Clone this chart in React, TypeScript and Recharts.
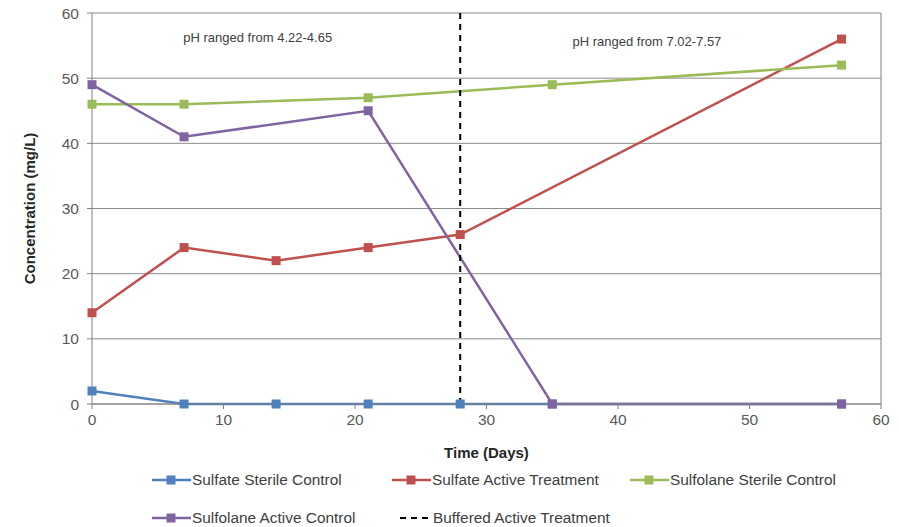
import React from "react";
import {
  LineChart,
  Line,
  XAxis,
  YAxis,
  CartesianGrid,
  Legend,
  ReferenceLine,
  ReferenceDot,
} from "recharts";

// values
const sulfateSterile = [
  { day: 0, value: 2 },
  { day: 7, value: 0 },
  { day: 14, value: 0 },
  { day: 21, value: 0 },
  { day: 28, value: 0 },
  { day: 35, value: 0 },
  { day: 57, value: 0 },
];
const sulfateActive = [
  { day: 0, value: 14 },
  { day: 7, value: 24 },
  { day: 14, value: 22 },
  { day: 21, value: 24 },
  { day: 28, value: 26 },
  { day: 57, value: 56 },
];
const sulfolaneSterile = [
  { day: 0, value: 46 },
  { day: 7, value: 46 },
  { day: 21, value: 47 },
  { day: 35, value: 49 },
  { day: 57, value: 52 },
];
const sulfolaneActive = [
  { day: 0, value: 49 },
  { day: 7, value: 41 },
  { day: 21, value: 45 },
  { day: 35, value: 0 },
  { day: 57, value: 0 },
];
const buffered = [
  { day: 28, value: 0 },
  { day: 28, value: 60 },
];

const xTicks = [0, 10, 20, 30, 40, 50, 60];
const yTicks = [0, 10, 20, 30, 40, 50, 60];

const notes = [
  { day: 12.6, value: 56.2, text: "pH ranged from 4.22-4.65" },
  { day: 42.2, value: 55.7, text: "pH ranged from 7.02-7.57" },
];

const legendItems = [
  { name: "Sulfate Sterile Control", color: "#4F81BD", left: 150, row: 0, dashed: false },
  { name: "Sulfate Active Treatment", color: "#C0504D", left: 390, row: 0, dashed: false },
  { name: "Sulfolane Sterile Control", color: "#9BBB59", left: 628, row: 0, dashed: false },
  { name: "Sulfolane Active Control", color: "#8064A2", left: 150, row: 1, dashed: false },
  { name: "Buffered Active Treatment", color: "#000000", left: 400, row: 1, dashed: true },
];

const FONT = "'Liberation Sans', Arial, sans-serif";

const squareDot = (color: string) => (p: any) => (
  <rect
    key={`d-${p.index}`}
    x={p.cx - 4.5}
    y={p.cy - 4.5}
    width={9}
    height={9}
    fill={color}
  />
);

function LegendBox() {
  return (
    <div style={{ position: "relative", width: 899, height: 66, fontFamily: FONT }}>
      {legendItems.map((it) => (
        <div
          key={it.name}
          style={{
            position: "absolute",
            left: it.left,
            top: it.row === 0 ? 10 : 48,
            height: 18,
            display: "flex",
            alignItems: "center",
            fontSize: 15.4,
            color: "#404040",
            whiteSpace: "nowrap",
          }}
        >
          {it.dashed ? (
            <svg width={33} height={12}>
              <line x1={0} y1={6} x2={32} y2={6} stroke="#000" strokeWidth={2} strokeDasharray="6 5" />
            </svg>
          ) : (
            <svg width={42} height={12}>
              <line x1={2} y1={6} x2={41} y2={6} stroke={it.color} strokeWidth={2.5} />
              <rect x={16.5} y={1.5} width={9} height={9} fill={it.color} />
            </svg>
          )}
          <span>{it.name}</span>
        </div>
      ))}
    </div>
  );
}

export default function App() {
  return (
    <div style={{ position: "absolute", left: 0, top: 0, width: 899, height: 527, background: "#fff" }}>
      <LineChart
        width={899}
        height={527}
        margin={{ top: 13, right: 18, left: 0, bottom: 0 }}
        style={{ fontFamily: FONT }}
      >
        <CartesianGrid vertical={false} stroke="#8c8c8c" />
        <XAxis
          type="number"
          dataKey="day"
          domain={[0, 60]}
          ticks={xTicks}
          height={57}
          stroke="#808080"
          tickSize={5}
          tickMargin={5}
          tick={{ fontSize: 15.5, fill: "#595959" }}
          label={{
            value: "Time (Days)",
            position: "insideBottom",
            offset: 3,
            style: { fontSize: 15, fontWeight: "bold", fill: "#262626" },
          }}
        />
        <YAxis
          type="number"
          dataKey="value"
          domain={[0, 60]}
          ticks={yTicks}
          width={92}
          stroke="#808080"
          tickSize={5}
          tickMargin={8}
          tick={{ fontSize: 15.5, fill: "#595959" }}
          label={{
            value: "Concentration (mg/L)",
            angle: -90,
            position: "insideLeft",
            offset: 30,
            style: { fontSize: 15, fontWeight: "bold", fill: "#262626", textAnchor: "middle" },
          }}
        />
        <ReferenceLine x={60} stroke="#808080" />
        {notes.map((n) => (
          <ReferenceDot
            key={n.text}
            x={n.day}
            y={n.value}
            r={0}
            fill="none"
            stroke="none"
            label={{ value: n.text, position: "center", fontSize: 13, fill: "#404040" }}
          />
        ))}
        <Line
          data={sulfateSterile}
          dataKey="value"
          name="Sulfate Sterile Control"
          stroke="#4F81BD"
          strokeWidth={2.5}
          dot={squareDot("#4F81BD")}
          isAnimationActive={false}
        />
        <Line
          data={sulfateActive}
          dataKey="value"
          name="Sulfate Active Treatment"
          stroke="#C0504D"
          strokeWidth={2.5}
          dot={squareDot("#C0504D")}
          isAnimationActive={false}
        />
        <Line
          data={sulfolaneSterile}
          dataKey="value"
          name="Sulfolane Sterile Control"
          stroke="#9BBB59"
          strokeWidth={2.5}
          dot={squareDot("#9BBB59")}
          isAnimationActive={false}
        />
        <Line
          data={sulfolaneActive}
          dataKey="value"
          name="Sulfolane Active Control"
          stroke="#8064A2"
          strokeWidth={2.5}
          dot={squareDot("#8064A2")}
          isAnimationActive={false}
        />
        <Line
          data={buffered}
          dataKey="value"
          name="Buffered Active Treatment"
          stroke="#000"
          strokeWidth={2}
          strokeDasharray="6 5"
          dot={false}
          isAnimationActive={false}
        />
        <Legend
          verticalAlign="bottom"
          wrapperStyle={{ left: 0, width: 899 }}
          content={() => <LegendBox />}
        />
      </LineChart>
    </div>
  );
}
